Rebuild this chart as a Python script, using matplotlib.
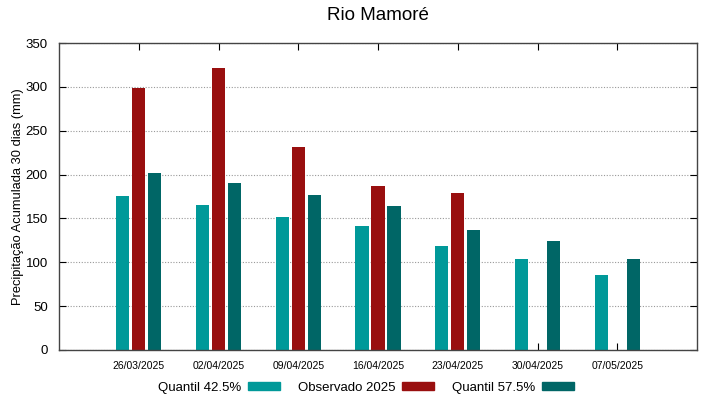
import matplotlib.pyplot as plt
import numpy as np
from matplotlib.patches import Rectangle

plt.rcParams["font.family"] = ["Liberation Sans", "DejaVu Sans"]

dates = ["26/03/2025", "02/04/2025", "09/04/2025", "16/04/2025",
         "23/04/2025", "30/04/2025", "07/05/2025"]
q425 = [176, 165, 152, 141, 119, 104, 85]
obs2025 = [299, 322, 231, 187, 179, np.nan, np.nan]
q575 = [202, 190, 177, 164, 137, 124, 104]

C_Q425 = "#009999"
C_OBS = "#990f0f"
C_Q575 = "#006666"


def main() -> None:
    fig = plt.figure(figsize=(7.19, 3.99), dpi=100)
    ax = fig.add_axes([59 / 719, 1 - 350 / 399, 638 / 719, 307 / 399])

    x = np.arange(1, len(dates) + 1)
    off = 0.2
    width = 0.165
    ax.bar(x - off, q425, width, color=C_Q425, zorder=2)
    ax.bar(x, obs2025, width, color=C_OBS, zorder=2)
    ax.bar(x + off, q575, width, color=C_Q575, zorder=2)

    ax.set_xlim(0, 8)
    ax.set_ylim(0, 350)
    ax.set_xticks(x, dates)
    ax.set_yticks(np.arange(0, 351, 50))
    ax.set_axisbelow(True)
    ax.yaxis.grid(True, linestyle=(0, (1, 1.5)), color="#999999", linewidth=0.8)
    ax.tick_params(axis="x", labelsize=7.5, direction="in", top=True, length=5, pad=8)
    ax.tick_params(axis="y", labelsize=9.5, direction="in", right=True, length=5, pad=8)
    for s in ax.spines.values():
        s.set_color("#444444")
        s.set_linewidth(1.0)
    ax.set_ylabel("Precipitação Acumulada 30 dias (mm)", fontsize=9.3, labelpad=1)
    fig.text(378 / 719, 1 - 16 / 399, "Rio Mamoré", fontsize=13.5,
             ha="center", va="center")

    handles = [Rectangle((0, 0), 1, 1, color=c) for c in (C_Q425, C_OBS, C_Q575)]
    labels = ["Quantil 42.5%", "Observado 2025", "Quantil 57.5%"]
    fig.legend(handles, labels, loc="center", ncol=3, frameon=False,
               bbox_to_anchor=(366 / 719, 1 - 388 / 399), markerfirst=False,
               fontsize=9.5, handlelength=2.4, handleheight=0.55,
               handletextpad=0.5, columnspacing=1.4)

    fig.savefig("out.png", dpi=100)
    plt.close(fig)


if __name__ == "__main__":
    main()
